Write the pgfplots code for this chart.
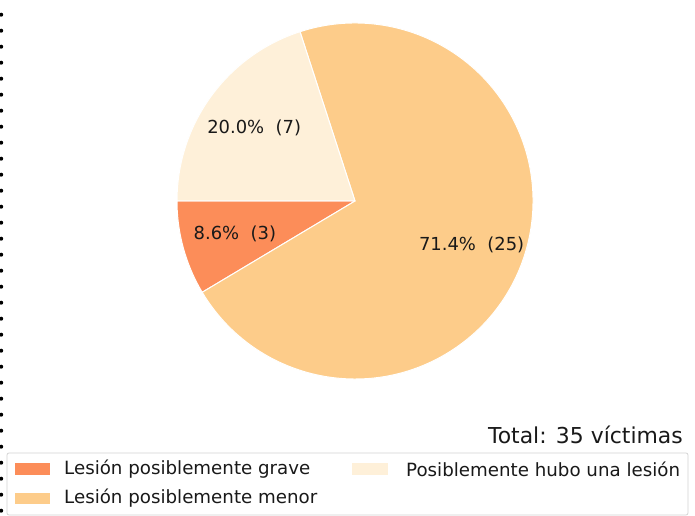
\documentclass[border=0pt]{standalone}
\usepackage{pgfplots}
\pgfplotsset{compat=1.18}
\usepackage{pgfplotstable}
\usepackage{fontspec}
\setmainfont{DejaVu Sans}
\definecolor{cA}{HTML}{FC8D59}
\definecolor{cB}{HTML}{FDCC8A}
\definecolor{cC}{HTML}{FEF0D9}
\definecolor{lframe}{HTML}{D4D4D4}
\pgfplotstableread{
label value
grave 3
menor 25
hubo 7
}\piedata
\pgfplotstablegetelem{0}{value}\of\piedata \let\va\pgfplotsretval
\pgfplotstablegetelem{1}{value}\of\piedata \let\vb\pgfplotsretval
\pgfplotstablegetelem{2}{value}\of\piedata \let\vc\pgfplotsretval
\pgfmathsetmacro\tot{\va+\vb+\vc}
\pgfmathsetmacro\aA{180}
\pgfmathsetmacro\aB{\aA+360*\va/\tot}
\pgfmathsetmacro\aC{\aB+360*\vb/\tot}
\pgfmathsetmacro\aD{\aC+360*\vc/\tot}
\pgfmathsetmacro\mA{(\aA+\aB)/2}
\pgfmathsetmacro\mB{(\aB+\aC)/2}
\pgfmathsetmacro\mC{(\aC+\aD)/2}
\begin{document}
\begin{tikzpicture}[x=1bp,y=1bp]
\useasboundingbox (0,0) rectangle (695,516);
\fill[white] (0,0) rectangle (695,516);
% dotted left border
\foreach \k in {0,...,31} {\fill[black] (1.2,{516-14.7-16*\k}) circle (2bp);}
\begin{axis}[at={(355bp,315bp)}, anchor=center, scale only axis,
  width=356bp, height=356bp, xmin=-1, xmax=1, ymin=-1, ymax=1,
  hide axis, clip=false]
\filldraw[fill=cA, draw=white, line width=1bp] (axis cs:0,0) -- (axis cs:{cos(\aA)},{sin(\aA)}) arc[start angle=\aA, end angle=\aB, radius=178bp] -- cycle;
\filldraw[fill=cB, draw=white, line width=1bp] (axis cs:0,0) -- (axis cs:{cos(\aB)},{sin(\aB)}) arc[start angle=\aB, end angle=\aC, radius=178bp] -- cycle;
\filldraw[fill=cC, draw=white, line width=1bp] (axis cs:0,0) -- (axis cs:{cos(\aC)},{sin(\aC)}) arc[start angle=\aC, end angle=\aD, radius=178bp] -- cycle;
\node[font=\fontsize{18}{20}\selectfont, text=black!90] at (axis cs:{0.7*cos(\mA)},{0.7*sin(\mA)}) {8.6\%~~(3)};
\node[font=\fontsize{18}{20}\selectfont, text=black!90] at (axis cs:{0.7*cos(\mB)},{0.7*sin(\mB)}) {71.4\%~~(25)};
\node[font=\fontsize{18}{20}\selectfont, text=black!90] at (axis cs:{0.7*cos(\mC)},{0.7*sin(\mC)}) {20.0\%~~(7)};
\end{axis}
% total
\node[anchor=base east, inner sep=0pt, font=\fontsize{22}{24}\selectfont, text=black!90] at (683,72) {Total: 35 víctimas};
% legend
\draw[lframe, line width=0.8bp, rounded corners=2bp] (7,1) rectangle (688,63);
\fill[cA] (15,41) rectangle (50,53);
\fill[cB] (15,12) rectangle (50,23);
\fill[cC] (352,41) rectangle (388,53);
\node[anchor=west, inner sep=0pt, font=\fontsize{18.3}{21}\selectfont, text=black!90] at (64,47) {Lesión posiblemente grave};
\node[anchor=west, inner sep=0pt, font=\fontsize{18.3}{21}\selectfont, text=black!90] at (64,17.5) {Lesión posiblemente menor};
\node[anchor=west, inner sep=0pt, font=\fontsize{18.3}{21}\selectfont, text=black!90] at (406,47) {Posiblemente hubo una lesión};
\end{tikzpicture}
\end{document}
